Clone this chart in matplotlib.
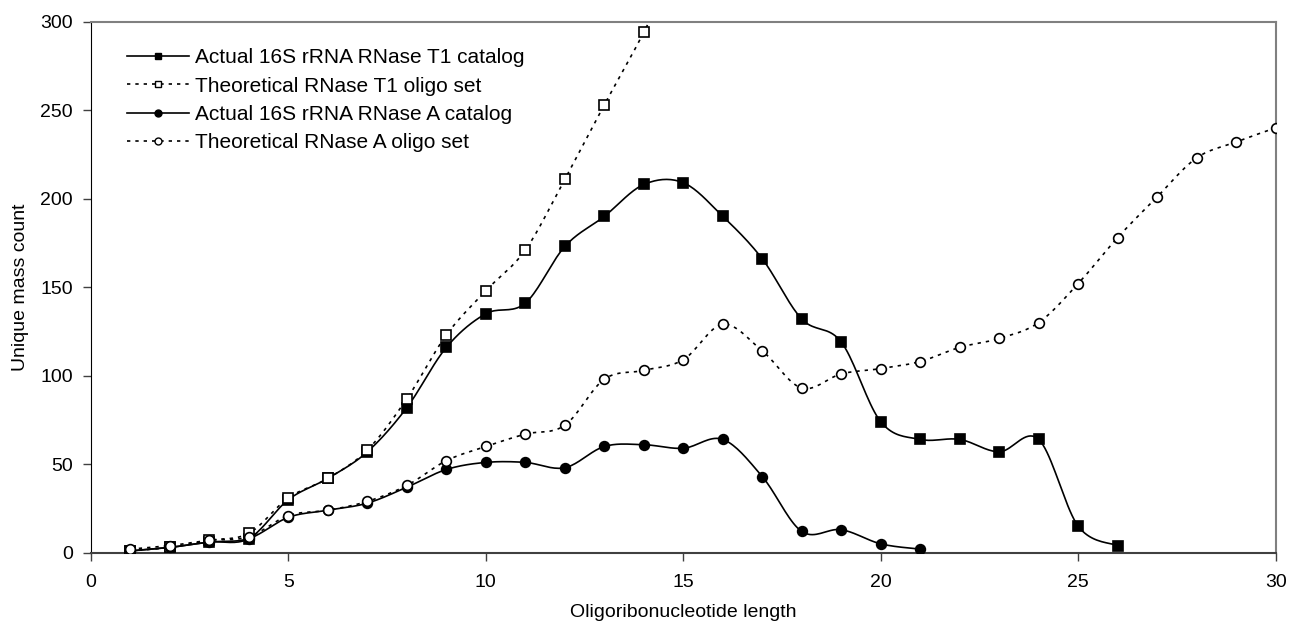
import numpy as np
import matplotlib
matplotlib.use("Agg")
import matplotlib.pyplot as plt
from matplotlib.lines import Line2D

plt.rcParams['font.family'] = ['Liberation Sans', 'DejaVu Sans']

# data
len_t1_actual = list(range(1, 27))
t1_actual = [1, 3, 6, 8, 30, 42, 57, 82, 116, 135, 141, 173, 190, 208, 209,
             190, 166, 132, 119, 74, 64, 64, 57, 64, 15, 4]

len_t1_theo = list(range(1, 16))
t1_theo = [1, 3, 7, 11, 31, 42, 58, 87, 123, 148, 171, 211, 253, 294, 340]

len_a_actual = list(range(1, 22))
a_actual = [1, 3, 6, 8, 20, 24, 28, 37, 47, 51, 51, 48, 60, 61, 59, 64, 43,
            12, 13, 5, 2]

len_a_theo = list(range(1, 31))
a_theo = [2, 4, 7, 9, 21, 24, 29, 38, 52, 60, 67, 72, 98, 103, 109, 129, 114,
          93, 101, 104, 108, 116, 121, 130, 152, 178, 201, 223, 232, 240]

labels = ['Actual 16S rRNA RNase T1 catalog',
          'Theoretical RNase T1 oligo set',
          'Actual 16S rRNA RNase A catalog',
          'Theoretical RNase A oligo set']


def smooth(xs, ys, n=20):
    # spreadsheet-style smoothed line (cubic bezier through the points)
    p = np.column_stack([xs, ys]).astype(float)
    out = [p[0]]
    for i in range(len(p) - 1):
        p0 = p[i - 1] if i > 0 else p[i]
        p3 = p[i + 2] if i + 2 < len(p) else p[i + 1]
        c1 = p[i] + (p[i + 1] - p0) / 6
        c2 = p[i + 1] - (p3 - p[i]) / 6
        t = np.linspace(0, 1, n)[1:, None]
        seg = ((1 - t) ** 3 * p[i] + 3 * (1 - t) ** 2 * t * c1
               + 3 * (1 - t) * t ** 2 * c2 + t ** 3 * p[i + 1])
        out.extend(seg)
    out = np.array(out)
    return out[:, 0], out[:, 1]


fig = plt.figure(figsize=(12.89, 6.30), dpi=100)
ax = fig.add_axes([0.0706, 0.1227, 0.919, 0.843])

dots = (0, (2, 3))
series = [
    (len_t1_actual, t1_actual, '-', 's', 'black'),
    (len_t1_theo, t1_theo, dots, 's', 'white'),
    (len_a_actual, a_actual, '-', 'o', 'black'),
    (len_a_theo, a_theo, dots, 'o', 'white'),
]
handles = []
for xs, ys, ls, mk, fc in series:
    sx, sy = smooth(xs, ys)
    ax.plot(sx, sy, color='black', lw=1.2, ls=ls, zorder=2)
    ax.plot(xs, ys, ls='none', marker=mk, ms=7, mfc=fc, mec='black',
            mew=1.2, zorder=3)
    handles.append(Line2D([], [], color='black', lw=1.2, ls=ls, marker=mk,
                          ms=5, mfc=fc, mec='black', mew=1.0))

ax.set_xlim(0, 30)
ax.set_ylim(0, 300)
ax.set_xticks(range(0, 31, 5))
ax.set_yticks(range(0, 301, 50))
ax.tick_params(direction='out', length=6, width=1, labelsize=14,
               color='#404040')
ax.tick_params(axis='y', pad=7)
ax.tick_params(axis='x', pad=9)

ax.spines['left'].set_color('black')
ax.spines['bottom'].set_color('#404040')
ax.spines['bottom'].set_linewidth(1.5)
ax.spines['top'].set_color('#808080')
ax.spines['right'].set_color('#808080')
ax.spines['top'].set_linewidth(1.5)
ax.spines['right'].set_linewidth(1.5)

ax.set_xlabel('Oligoribonucleotide length', fontsize=14, labelpad=10)
ax.set_ylabel('Unique mass count', fontsize=14, labelpad=8)

ax.legend(handles, labels, loc='upper left', bbox_to_anchor=(0.03, 0.95),
          frameon=False, fontsize=15, handlelength=3.0, handletextpad=0.3,
          labelspacing=0.45, borderaxespad=0, borderpad=0)

fig.savefig('out.png', dpi=100)
